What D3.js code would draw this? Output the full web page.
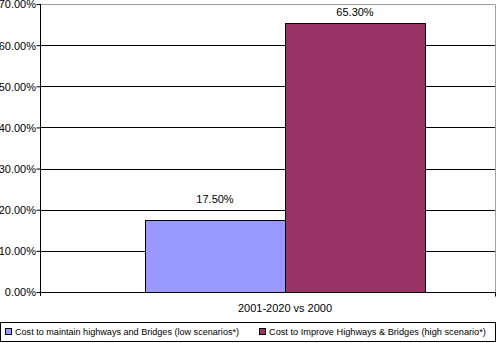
<!DOCTYPE html>
<html><head><meta charset="utf-8">
<script src="https://cdn.jsdelivr.net/npm/d3@7"></script>
<style>
body{margin:0;background:#fff;}
svg{display:block;font-family:"Liberation Sans",Arial,sans-serif;}
</style></head>
<body><svg id="c" width="496" height="343"></svg>
<script>
const categories = ["2001-2020 vs 2000"];
const seriesNames = ["Cost to maintain highways and Bridges (low scenarios*)", "Cost to Improve Highways & Bridges (high scenario*)"];
const seriesValues = [17.5, 65.3];
const seriesColors = ["#9999FF", "#993366"];
const yTicks = [0, 10, 20, 30, 40, 50, 60, 70];

const svg = d3.select("#c");
const pLeft = 40, pRight = 495, pTop = 4, pBottom = 292;
const FS = "11px";

const y = d3.scaleLinear().domain([0, 70]).range([pBottom, pTop]);
const x = d3.scaleBand().domain(categories).range([pLeft, 530]).paddingInner(0).paddingOuter(0.375);
const xs = d3.scaleBand().domain(d3.range(seriesValues.length)).range([0, x.bandwidth()]);

// plot border (gray top/right)
svg.append("path").attr("d", `M${pLeft},${pTop+0.5}H${pRight+0.5}V${pBottom}`)
  .attr("fill","none").attr("stroke","#a0a0a0");

// gridlines
svg.append("g").selectAll("line").data(yTicks.filter(d => d > 0 && d < 70)).join("line")
  .attr("x1", pLeft).attr("x2", pRight).attr("y1", d => Math.round(y(d)) + 0.5).attr("y2", d => Math.round(y(d)) + 0.5)
  .attr("stroke", "#000");

// bars
const cat = categories[0];
svg.append("g").selectAll("rect").data(seriesValues).join("rect")
  .attr("x", (d, i) => Math.round(x(cat) + xs(i)) + 0.5)
  .attr("y", d => Math.round(y(d)) + 0.5)
  .attr("width", xs.bandwidth())
  .attr("height", d => Math.round(pBottom - y(d)))
  .attr("fill", (d, i) => seriesColors[i]).attr("stroke", "#000");

// value labels
svg.append("g").selectAll("text").data(seriesValues).join("text")
  .attr("x", (d, i) => x(cat) + xs(i) + xs.bandwidth() / 2)
  .attr("y", d => Math.max(y(d) - 21, pTop + 8))
  .attr("text-anchor", "middle").attr("font-size", FS).attr("fill", "#000").attr("dominant-baseline", "central")
  .text(d => d.toFixed(2) + "%");

// y axis
const yAxis = d3.axisLeft(y).tickValues(yTicks).tickSize(4).tickFormat(d => d.toFixed(2) + "%");
const gy = svg.append("g").attr("transform", `translate(${pLeft + 0.5},0)`).call(yAxis);
gy.attr("font-family", null).attr("font-size", null);
gy.select(".domain").attr("d", `M0,${pTop}V${pBottom + 4}`).attr("stroke", "#000");
gy.selectAll(".tick line").attr("stroke", "#000");
gy.selectAll(".tick text").attr("font-size", FS).attr("fill", "#000").attr("x", -4.5).attr("dy", "0.35em");

// x axis
const gx = svg.append("g").attr("transform", `translate(0,${pBottom + 0.5})`);
gx.append("line").attr("x1", pLeft).attr("x2", pRight + 1).attr("stroke", "#000");
gx.append("line").attr("x1", pRight + 0.5).attr("x2", pRight + 0.5).attr("y1", 0).attr("y2", 4).attr("stroke", "#000");
gx.selectAll("text").data(categories).join("text")
  .attr("x", d => x(d) + x.bandwidth() / 2).attr("y", 15)
  .attr("text-anchor", "middle").attr("font-size", FS).attr("fill", "#000").attr("dominant-baseline", "central")
  .text(d => d);

// legend
const lg = svg.append("g");
lg.append("rect").attr("x", 0.5).attr("y", 322.5).attr("width", 495).attr("height", 19).attr("fill", "#fff").attr("stroke", "#000");
const lx = [5, 259];
const lw = [224, 217];
seriesNames.forEach((n, i) => {
  lg.append("rect").attr("x", lx[i] + 0.5).attr("y", 328.5).attr("width", 6).attr("height", 6)
    .attr("fill", seriesColors[i]).attr("stroke", "#000");
  const t = lg.append("text").attr("x", lx[i] + 10).attr("y", 332).attr("dominant-baseline", "central")
    .attr("font-size", FS).attr("fill", "#000").text(n);
  const w = t.node().getComputedTextLength();
  if (w > lw[i]) t.attr("font-size", (11 * lw[i] / w).toFixed(2) + "px");
});
</script></body></html>
